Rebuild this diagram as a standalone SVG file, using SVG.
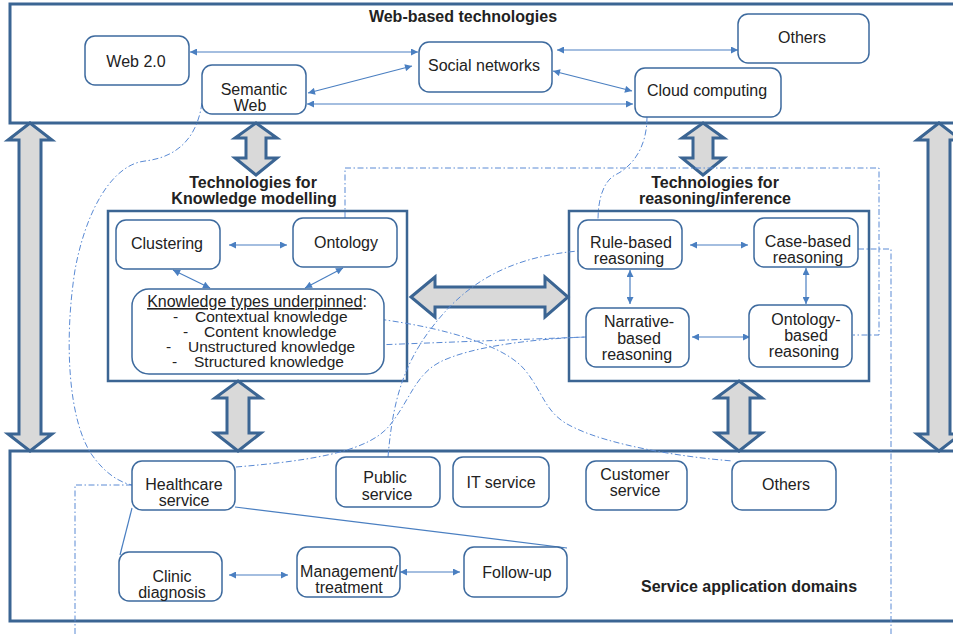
<svg xmlns="http://www.w3.org/2000/svg" width="953" height="634" viewBox="0 0 953 634">
<style>
text{font-family:"Liberation Sans",Arial,sans-serif;font-size:16px;fill:#222;text-anchor:middle}
.t{font-weight:bold}
.l{text-anchor:start;font-size:15.5px}
.band{fill:none;stroke:#3b6593;stroke-width:3}
.grp{fill:none;stroke:#3b6593;stroke-width:2.5}
.box{fill:#fff;stroke:#3d6a9e;stroke-width:1.5}
.big{fill:#d9d9d9;stroke:#3b6593;stroke-width:3;stroke-linejoin:miter}
.c{fill:none;stroke:#4a7fc1;stroke-width:1.2;marker-start:url(#ah);marker-end:url(#ah)}
.s{fill:none;stroke:#4a7fc1;stroke-width:1.2}
.d{fill:none;stroke:#5a8ad4;stroke-width:1;stroke-dasharray:6 2.5 1.5 2.5}
</style>
<defs>
<marker id="ah" viewBox="0 0 10 10" refX="10" refY="5" markerWidth="9" markerHeight="7" markerUnits="userSpaceOnUse" orient="auto-start-reverse"><path d="M0,0L10,5L0,10z" fill="#4a7fc1"/></marker>
</defs>
<rect width="953" height="634" fill="#fff"/>

<!-- bands -->
<g id="band-web"><rect class="band" x="10" y="4" width="960" height="119"/><text class="t" x="463" y="22">Web-based technologies</text></g>
<g id="band-service"><rect class="band" x="10" y="451" width="960" height="170"/><text class="t" x="749" y="592">Service application domains</text></g>

<!-- big arrows -->
<g id="big-arrows">
<path class="big" d="M30,123 L52,140 L41,140 L41,434 L52,434 L30,451 L8,434 L19,434 L19,140 L8,140 Z"/>
<path class="big" d="M939,123 L961,140 L950,140 L950,434 L961,434 L939,451 L917,434 L928,434 L928,140 L917,140 Z"/>
<path class="big" d="M256,123 L277,138 L266,138 L266,158 L277,158 L256,175 L235,158 L246,158 L246,138 L235,138 Z"/>
<path class="big" d="M703,123 L724,138 L713,138 L713,158 L724,158 L703,175 L682,158 L693,158 L693,138 L682,138 Z"/>
<path class="big" d="M238,381 L261,398 L249,398 L249,433 L261,433 L238,451 L215,433 L227,433 L227,398 L215,398 Z"/>
<path class="big" d="M739,381 L762,398 L750,398 L750,433 L762,433 L739,451 L716,433 L728,433 L728,398 L716,398 Z"/>
<path class="big" d="M411,297 L435,277 L435,287 L545,287 L545,277 L568,297 L545,317 L545,307 L435,307 L435,317 Z"/>
</g>

<!-- group boxes -->
<g id="grp-km"><rect class="grp" x="108" y="211" width="299" height="170"/><text class="t" x="253" y="188">Technologies for</text><text class="t" x="254" y="204">Knowledge modelling</text></g>
<g id="grp-reason"><rect class="grp" x="569" y="211" width="300" height="170"/><text class="t" x="715" y="188">Technologies for</text><text class="t" x="715" y="204">reasoning/inference</text></g>

<!-- connectors -->
<g id="connectors">
<path class="d" d="M202,103 C196,145 170,158 145,161 C110,165 85,215 75,270 C64,340 68,420 92,455 C104,472 118,482 132,485"/>
<path class="d" d="M75,634 V485 H132"/>
<path class="d" d="M236,467 C320,460 370,450 390,425 C410,400 415,375 440,362 C470,347 530,339 586,337"/>
<path class="d" d="M388,457 C392,410 400,370 430,330 C460,290 500,258 578,251"/>
<path class="d" d="M343,315 C420,322 500,340 525,370 C545,395 545,415 575,428 C610,445 680,457 733,461"/>
<path class="d" d="M349,346 L586,337"/>
<path class="d" d="M345,218 V168 H879 V335 H853"/>
<path class="d" d="M858,249 H891 V634"/>
<path class="d" d="M647,117 C647,150 630,168 615,175 C603,182 598,200 598,220"/>

<path class="c" d="M190,52 H418"/>
<path class="c" d="M308,93 L412,66"/>
<path class="c" d="M307,104 H633"/>
<path class="c" d="M557,50 H738"/>
<path class="c" d="M553,71 L632,91"/>

<path class="c" d="M229,245 H287"/>
<path class="c" d="M173,270 L210,288"/>
<path class="c" d="M343,268 L305,288"/>

<path class="c" d="M690,245 H748"/>
<path class="c" d="M630,270 V304"/>
<path class="c" d="M806,268 V304"/>
<path class="c" d="M692,337 H750"/>

<path class="s" d="M132,508 L120,555"/>
<path class="s" d="M235,507 L567,548"/>
<path class="c" d="M229,575 H288"/>
<path class="c" d="M400,572 H460"/>
</g>

<!-- web nodes -->
<g id="web20"><rect class="box" x="85" y="36" width="104" height="49" rx="10"/><text x="136" y="67">Web 2.0</text></g>
<g id="semantic"><rect class="box" x="202" y="65" width="104" height="49" rx="10"/><text x="254" y="95">Semantic</text><text x="250" y="111">Web</text></g>
<g id="social"><rect class="box" x="419" y="42" width="133" height="50" rx="10"/><text x="484" y="71">Social networks</text></g>
<g id="others-web"><rect class="box" x="738" y="14" width="131" height="49" rx="10"/><text x="802" y="43">Others</text></g>
<g id="cloud"><rect class="box" x="635" y="68" width="146" height="49" rx="10"/><text x="707" y="96">Cloud computing</text></g>

<!-- KM nodes -->
<g id="clustering"><rect class="box" x="116" y="220" width="104" height="49" rx="10"/><text x="167" y="249">Clustering</text></g>
<g id="ontology"><rect class="box" x="293" y="218" width="104" height="49" rx="10"/><text x="346" y="248">Ontology</text></g>
<g id="ktypes"><rect class="box" x="132" y="289" width="252" height="85" rx="17"/>
<text x="257" y="307"><tspan text-decoration="underline">Knowledge types underpinned</tspan>:</text>
<text class="l" x="173" y="322">-</text><text class="l" x="195" y="322">Contextual knowledge</text>
<text class="l" x="183" y="337">-</text><text class="l" x="204" y="337">Content knowledge</text>
<text class="l" x="166" y="352">-</text><text class="l" x="188" y="352">Unstructured knowledge</text>
<text class="l" x="172" y="367">-</text><text class="l" x="194" y="367">Structured knowledge</text>
</g>

<!-- reasoning nodes -->
<g id="rule"><rect class="box" x="578" y="220" width="104" height="49" rx="10"/><text x="631" y="248">Rule-based</text><text x="629" y="264">reasoning</text></g>
<g id="case"><rect class="box" x="754" y="218" width="104" height="49" rx="10"/><text x="808" y="247">Case-based</text><text x="808" y="263">reasoning</text></g>
<g id="narrative"><rect class="box" x="586" y="308" width="103" height="59" rx="10"/><text x="639" y="327">Narrative-</text><text x="639" y="344">based</text><text x="637" y="360">reasoning</text></g>
<g id="ontobased"><rect class="box" x="749" y="305" width="103" height="62" rx="10"/><text x="806" y="325">Ontology-</text><text x="806" y="341">based</text><text x="804" y="357">reasoning</text></g>

<!-- service nodes -->
<g id="healthcare"><rect class="box" x="132" y="461" width="103" height="49" rx="10"/><text x="184" y="490">Healthcare</text><text x="184" y="506">service</text></g>
<g id="public"><rect class="box" x="336" y="457" width="104" height="50" rx="10"/><text x="385" y="483">Public</text><text x="387" y="500">service</text></g>
<g id="it"><rect class="box" x="453" y="457" width="96" height="50" rx="10"/><text x="501" y="488">IT service</text></g>
<g id="customer"><rect class="box" x="586" y="461" width="101" height="49" rx="10"/><text x="635" y="480">Customer</text><text x="635" y="496">service</text></g>
<g id="others-svc"><rect class="box" x="732" y="461" width="104" height="49" rx="10"/><text x="786" y="490">Others</text></g>
<g id="clinic"><rect class="box" x="119" y="552" width="103" height="49" rx="10"/><text x="172" y="582">Clinic</text><text x="172" y="598">diagnosis</text></g>
<g id="management"><rect class="box" x="297" y="547" width="103" height="50" rx="10"/><text x="349" y="577">Management/</text><text x="349" y="593">treatment</text></g>
<g id="followup"><rect class="box" x="464" y="547" width="103" height="50" rx="10"/><text x="517" y="578">Follow-up</text></g>
</svg>
